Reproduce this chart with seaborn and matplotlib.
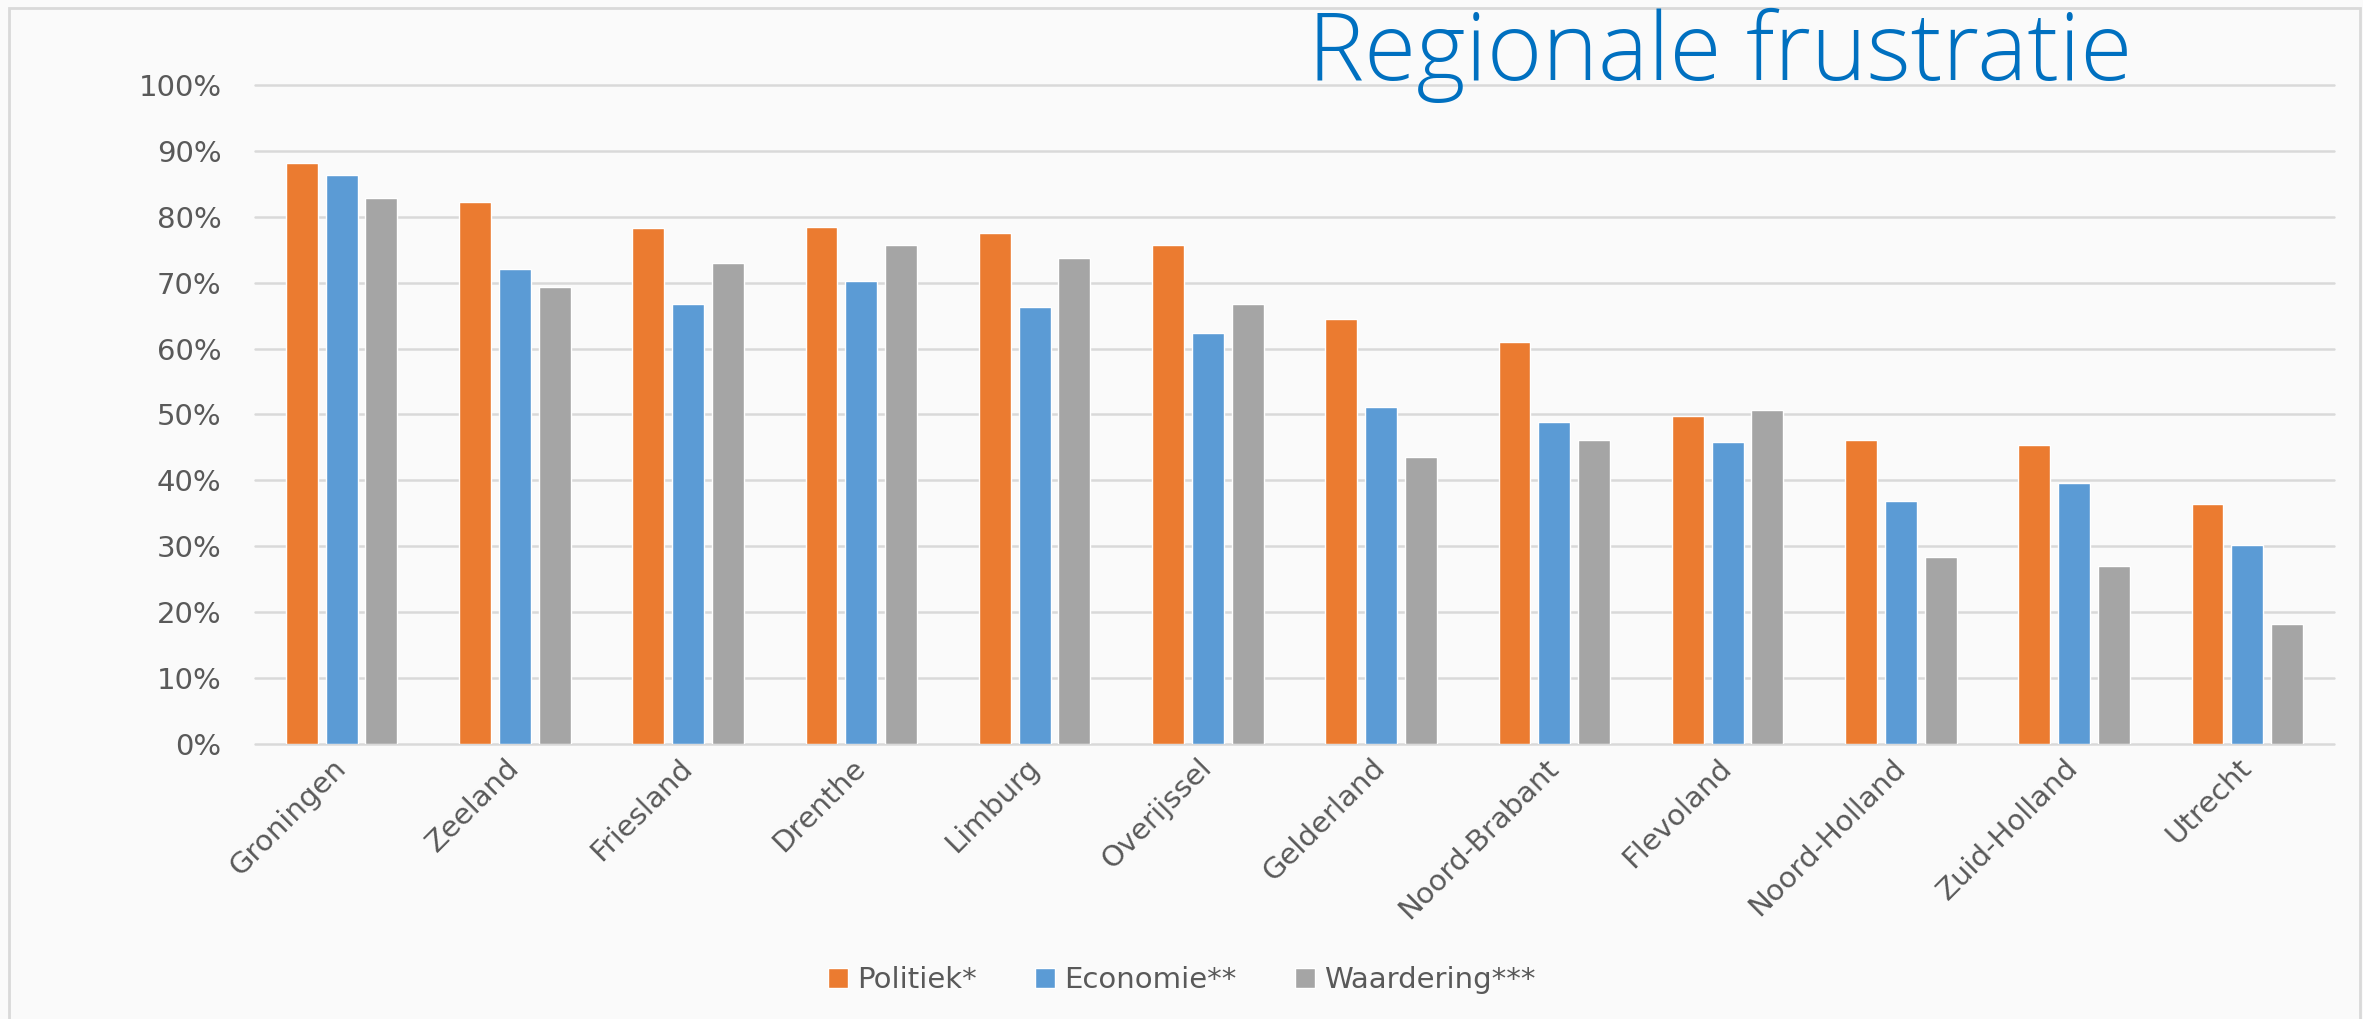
import pandas as pd
import matplotlib.pyplot as plt
import seaborn as sns
from matplotlib.patches import Rectangle

# Data
provincies = ["Groningen", "Zeeland", "Friesland", "Drenthe", "Limburg", "Overijssel",
              "Gelderland", "Noord-Brabant", "Flevoland", "Noord-Holland", "Zuid-Holland", "Utrecht"]
politiek = [88.1, 82.3, 78.3, 78.4, 77.5, 75.7, 64.5, 61.0, 49.8, 46.2, 45.4, 36.4]
economie = [86.4, 72.1, 66.7, 70.3, 66.3, 62.3, 51.1, 48.9, 45.8, 36.9, 39.6, 30.2]
waardering = [82.8, 69.4, 73.0, 75.7, 73.8, 66.7, 43.5, 46.2, 50.7, 28.4, 27.0, 18.2]
reeksen = ["Politiek*", "Economie**", "Waardering***"]
kleuren = ["#EB7B30", "#5B9BD5", "#A5A5A5"]
y_ticks = [0, 10, 20, 30, 40, 50, 60, 70, 80, 90, 100]

df = pd.DataFrame({
    "provincie": provincies * 3,
    "reeks": [reeksen[0]] * 12 + [reeksen[1]] * 12 + [reeksen[2]] * 12,
    "waarde": [v / 100 for v in politiek + economie + waardering],
})

sns.set_style("white")
plt.rcParams["font.family"] = ["DejaVu Sans"]

bg = "#FAFAFA"
text_grey = "#595959"

fig = plt.figure(figsize=(23.63, 10.19), dpi=100, facecolor=bg)
ax = fig.add_axes([0.1079, 0.2699, 0.8798, 0.6467])
ax.set_facecolor(bg)

sns.barplot(data=df, x="provincie", y="waarde", hue="reeks", palette=kleuren,
            width=0.69, gap=0.2, ax=ax, errorbar=None, saturation=1)

ax.set_ylim(0, 1.0)
ax.set_yticks([t / 100 for t in y_ticks])
ax.set_yticklabels([f"{t}%" for t in y_ticks])
ax.yaxis.grid(True, color="#D9D9D9", linewidth=1.8)
for gl in ax.get_ygridlines():
    gl.set_clip_on(False)
ax.set_axisbelow(True)
for s in ax.spines.values():
    s.set_visible(False)
ax.tick_params(axis="both", length=0, labelsize=21, labelcolor=text_grey)
ax.tick_params(axis="y", pad=24)
ax.tick_params(axis="x", pad=14)
for lbl in ax.get_xticklabels():
    lbl.set_rotation(45)
    lbl.set_ha("right")
    lbl.set_va("center")
    lbl.set_rotation_mode("anchor")
ax.set_xlabel("")
ax.set_ylabel("")

# legend at the bottom
handles, labels = ax.get_legend_handles_labels()
ax.get_legend().remove()
fig.legend(handles, labels, loc="center", bbox_to_anchor=(0.5, 0.038), ncol=3,
           frameon=False, fontsize=21, labelcolor=text_grey,
           handlelength=0.7, handleheight=0.7, handletextpad=0.3, columnspacing=2.0)

# title
fig.text(1308 / 2363, 0.9215, "Regionale frustratie", color="#0070C0", fontsize=68,
         family=["Open Sans", "DejaVu Sans"], fontweight="light", ha="left", va="baseline")

# light frame around the chart
fig.patches.append(Rectangle((9 / 2363, -0.02), (2360 - 9) / 2363, 1.02 - 8 / 1019,
                             transform=fig.transFigure, fill=False,
                             edgecolor="#D9D9D9", linewidth=2))

fig.savefig("out.png", dpi=100, facecolor=bg)
